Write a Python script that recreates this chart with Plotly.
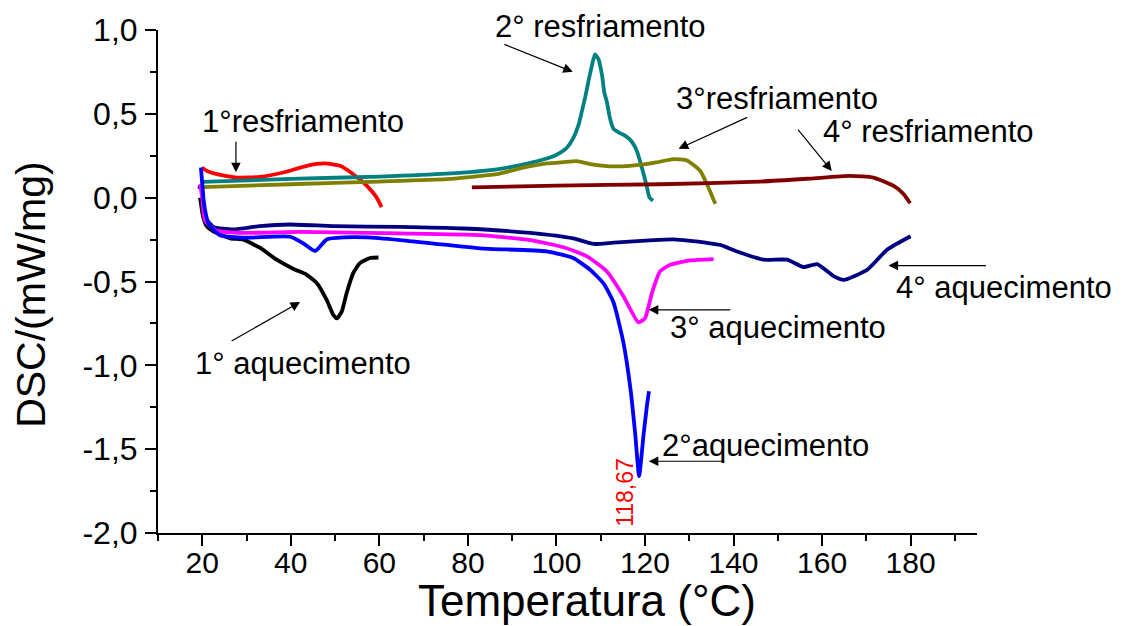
import plotly.graph_objects as go

# ---------------- data ----------------
aq1_x = [19.5, 20.2, 21.0, 22.4, 26.3, 29.3, 33.1, 36.8, 40.6, 43.6, 45.9, 48.1, 49.6, 50.4, 51.5, 52.6, 54.1, 55.6, 57.9, 59.8]
aq1_y = [0.0, -0.115, -0.17, -0.2, -0.243, -0.25, -0.30, -0.37, -0.425, -0.46, -0.51, -0.61, -0.70, -0.72, -0.68, -0.57, -0.45, -0.39, -0.36, -0.357]

res1_x = [19.9, 21.0, 23.3, 27.8, 33.0, 38.3, 43.6, 47.7, 51.1, 54.1, 57.2, 59.4, 60.5]
res1_y = [0.18, 0.16, 0.14, 0.12, 0.124, 0.15, 0.19, 0.204, 0.19, 0.14, 0.07, 0.0, -0.056]

res2_x = [20, 40, 60, 75.2, 86.5, 94.1, 99.3, 100.8, 102.3, 103.8, 105.0, 105.7, 106.5, 107.2, 108.0, 108.7, 109.5, 110.3, 110.8, 111.4, 112.1, 112.9, 114.0, 115.5, 117.0, 118.2, 119.3, 120.3, 121.0, 121.8]
res2_y = [0.094, 0.112, 0.126, 0.143, 0.169, 0.208, 0.247, 0.267, 0.296, 0.355, 0.434, 0.51, 0.60, 0.69, 0.786, 0.855, 0.826, 0.73, 0.63, 0.57, 0.473, 0.41, 0.39, 0.37, 0.335, 0.276, 0.179, 0.08, 0.002, -0.018]

res3_x = [20, 40, 60, 75.2, 86.5, 92.5, 97.8, 101.5, 104.6, 107.6, 111.4, 116.6, 119.7, 122.5, 126.4, 129.5, 132.5, 134.0, 135.9]
res3_y = [0.063, 0.08, 0.096, 0.11, 0.14, 0.179, 0.204, 0.212, 0.218, 0.2, 0.188, 0.19, 0.198, 0.21, 0.23, 0.222, 0.159, 0.08, -0.037]

res4_x = [80.9, 100, 123.4, 146, 157.3, 166.3, 171.6, 176.2, 178.4, 179.9]
res4_y = [0.061, 0.072, 0.08, 0.096, 0.114, 0.13, 0.12, 0.07, 0.022, -0.033]

aq4_x = [19.0, 19.8, 20.3, 20.6, 22.5, 27, 33, 39.8, 49.6, 64.7, 79, 94.1, 103.8, 108.4, 112.9, 121.9, 126.4, 134.7, 137, 140.8, 146.8, 152.1, 155.8, 158.9, 162.6, 164.9, 170.2, 174.7, 180]
aq4_y = [0.065, 0.06, -0.05, -0.115, -0.174, -0.19, -0.17, -0.16, -0.17, -0.174, -0.184, -0.21, -0.243, -0.276, -0.268, -0.253, -0.249, -0.272, -0.282, -0.321, -0.37, -0.37, -0.414, -0.396, -0.468, -0.49, -0.43, -0.31, -0.23]

aq3_x = [19.5, 20.0, 20.6, 23.3, 28.4, 42.1, 64.7, 82.8, 94.1, 101.6, 106.9, 111.4, 115.1, 118.5, 120.0, 121.6, 123.4, 125.7, 130.2, 135.5]
aq3_y = [0.08, 0.0, -0.135, -0.198, -0.21, -0.204, -0.213, -0.223, -0.253, -0.296, -0.35, -0.44, -0.586, -0.743, -0.72, -0.566, -0.44, -0.4, -0.374, -0.366]

aq2_x = [19.7, 20.0, 20.4, 21.4, 24.0, 29.3, 39.8, 42.8, 45.5, 48.1, 51.9, 57.2, 64.7, 82.7, 97.8, 103.8, 107.6, 110.6, 112.9, 115.1, 116.7, 117.8, 118.67, 119.7, 120.4, 120.9]
aq2_y = [0.18, 0.08, -0.037, -0.155, -0.224, -0.239, -0.233, -0.272, -0.318, -0.249, -0.237, -0.237, -0.253, -0.302, -0.321, -0.36, -0.43, -0.51, -0.625, -0.86, -1.135, -1.41, -1.66, -1.41, -1.25, -1.155]

x_ticks = [20, 40, 60, 80, 100, 120, 140, 160, 180]
x_ticktext = ["20", "40", "60", "80", "100", "120", "140", "160", "180"]
y_ticks = [-2.0, -1.5, -1.0, -0.5, 0.0, 0.5, 1.0]
y_ticktext = ["-2,0", "-1,5", "-1,0", "-0,5", "0,0", "0,5", "1,0"]

peak_x = 118.67
peak_y = -1.66
peak_label = "118,67"

FONT = "Arial, 'Liberation Sans', sans-serif"

series = [
    (aq1_x, aq1_y, "#000000", "1° aquecimento"),
    (res1_x, res1_y, "#FF0000", "1°resfriamento"),
    (res2_x, res2_y, "#008080", "2° resfriamento"),
    (res3_x, res3_y, "#808000", "3°resfriamento"),
    (res4_x, res4_y, "#800000", "4° resfriamento"),
    (aq4_x, aq4_y, "#000080", "4° aquecimento"),
    (aq3_x, aq3_y, "#FF00FF", "3° aquecimento"),
    (aq2_x, aq2_y, "#0000FF", "2°aquecimento"),
]

fig = go.Figure()
for xs, ys, col, name in series:
    fig.add_trace(go.Scatter(x=xs, y=ys, mode="lines", name=name,
                             line=dict(color=col, width=3.8, shape="spline", smoothing=0.5),
                             showlegend=False, hoverinfo="skip"))

# plot area in pixels
L, R, T, B = 158, 977, 24, 533
W, H = 1136, 626


def px2paper(px, py):
    return (px - L) / (R - L), (B - py) / (B - T)


# curve labels (text centre in pixels)
labels = [
    ("1°resfriamento", 302.5, 117),
    ("2° resfriamento", 600, 20),
    ("3°resfriamento", 776.5, 93),
    ("4° resfriamento", 928.5, 127),
    ("4° aquecimento", 1003.5, 285),
    ("3° aquecimento", 777.5, 325),
    ("2°aquecimento", 765.5, 444),
    ("1° aquecimento", 303, 361),
]
annotations = []
for txt, cx, cy in labels:
    ax_, ay_ = px2paper(cx, cy)
    annotations.append(dict(text=txt, x=ax_, y=ay_, xref="paper", yref="paper",
                            xanchor="center", yanchor="middle", showarrow=False,
                            font=dict(family=FONT, size=31, color="black")))

# arrows: tip in data coordinates, tail offset in pixels
arrows = [
    (27.6, 0.151, 0, -32),
    (103.7, 0.751, -70, -28),
    (127.6, 0.292, 70, -32),
    (162.2, 0.159, -35, -43),
    (175.0, -0.405, 99, 0),
    (120.85, -0.669, 83, 0),
    (120.85, -1.572, 77, 0),
    (42.1, -0.622, -70, 40),
]
for tx, ty, dx, dy in arrows:
    annotations.append(dict(text="", x=tx, y=ty, xref="x", yref="y", ax=dx, ay=dy,
                            showarrow=True, arrowhead=2, arrowsize=1.6, arrowwidth=1.2,
                            arrowcolor="black", standoff=0, startstandoff=0))

# peak label
annotations.append(dict(text=peak_label, x=peak_x, y=peak_y - 0.10, xref="x", yref="y",
                        xshift=-14, textangle=-90, showarrow=False,
                        xanchor="center", yanchor="middle",
                        font=dict(family=FONT, size=23, color="#FF0000")))

# axis titles
tx, ty = px2paper(587, 601)
annotations.append(dict(text="Temperatura (°C)", x=tx, y=ty, xref="paper", yref="paper",
                        xanchor="center", yanchor="middle", showarrow=False,
                        font=dict(family=FONT, size=44, color="black")))
tx, ty = px2paper(31, 292)
annotations.append(dict(text="DSC/(mW/mg)", x=tx, y=ty, xref="paper", yref="paper",
                        xanchor="center", yanchor="middle", showarrow=False, textangle=-90,
                        font=dict(family=FONT, size=41, color="black")))

fig.update_layout(
    width=W, height=626,
    margin=dict(l=L, r=W - R, t=T, b=H - B, pad=0),
    plot_bgcolor="white", paper_bgcolor="white",
    annotations=annotations,
    font=dict(family=FONT, color="black"),
)
fig.update_xaxes(
    range=[10, 195], showline=True, linecolor="black", linewidth=2,
    ticks="outside", ticklen=11, tickwidth=2, tickcolor="black",
    tickmode="array", tickvals=x_ticks, ticktext=x_ticktext,
    tickfont=dict(family=FONT, size=30, color="black"),
    ticklabelstandoff=-9,
    showgrid=False, zeroline=False,
    minor=dict(ticks="outside", ticklen=6, tickwidth=2, tickcolor="black",
               tickmode="linear", tick0=0, dtick=10, showgrid=False),
)
fig.update_yaxes(
    range=[-2, 1], showline=True, linecolor="black", linewidth=2,
    ticks="outside", ticklen=11, tickwidth=2, tickcolor="black",
    tickmode="array", tickvals=y_ticks, ticktext=y_ticktext,
    tickfont=dict(family=FONT, size=32, color="black"),
    ticklabelstandoff=1,
    showgrid=False, zeroline=False,
    minor=dict(ticks="outside", ticklen=6, tickwidth=2, tickcolor="black",
               tickmode="linear", tick0=0, dtick=0.25, showgrid=False),
)

fig.write_html("out.html")
